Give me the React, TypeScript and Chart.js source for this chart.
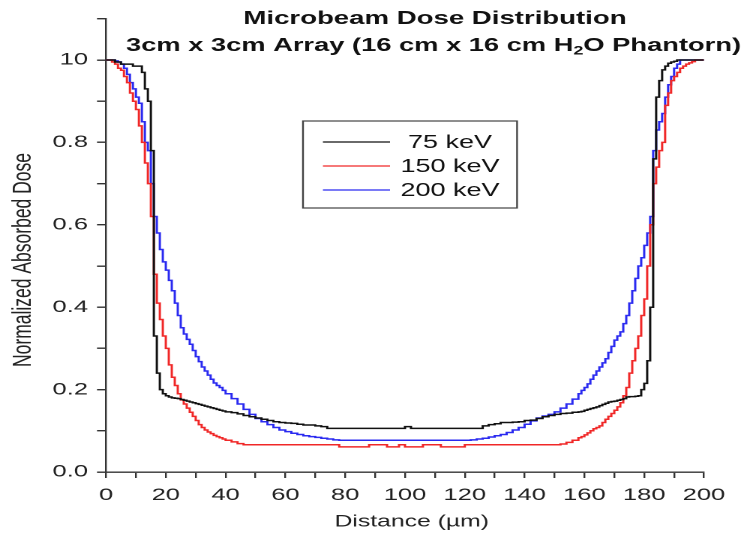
import React, { useEffect, useRef } from 'react';
import { Chart, registerables } from 'chart.js';

Chart.register(...registerables);

// The reference is horizontally stretched; draw on a narrower canvas and stretch it with CSS.
const STRETCH = 1.5;
const W = 747;
const H = 533;
const IW = Math.round(W / STRETCH);

const titleLine1 = 'Microbeam Dose Distribution';
const titleLine2a = '3cm x 3cm Array (16 cm x 16 cm H';
const titleLine2sub = '2';
const titleLine2b = 'O Phantorn)';
const xTitle = 'Distance (\u00b5m)';
const yTitle = 'Normalized Absorbed Dose';

const seriesLabels = ['75 keV', '150 keV', '200 keV'];
const seriesColors = ['#111111', '#f02828', '#2a2af0'];

const distance = [
  0, 1, 2, 3, 4, 5, 6, 7, 8, 9, 10, 11, 12, 13, 14, 15, 16, 17, 18, 19, 20,
  21, 22, 23, 24, 25, 26, 27, 28, 29, 30, 31, 32, 33, 34, 35, 36, 37, 38, 39, 40,
  42, 44, 46, 48, 50, 52, 54, 56, 58, 60, 62, 64, 66, 68, 70, 72, 74, 76, 78, 80,
  82, 84, 86, 88, 90, 92, 94, 96, 98, 100, 102, 104, 106, 108, 110, 112, 114, 116, 118, 120,
  122, 124, 126, 128, 130, 132, 134, 136, 138, 140, 142, 144, 146, 148, 150, 152, 154, 156, 158,
  159, 160, 161, 162, 163, 164, 165, 166, 167, 168, 169, 170, 171, 172, 173, 174, 175, 176, 177, 178, 179,
  180, 181, 182, 183, 184, 185, 186, 187, 188, 189, 190, 191, 192, 193, 194, 195, 196, 197, 198, 199, 200,
];

const dose75 = [
  1, 1, 1, 0.995, 0.995, 0.99, 0.99, 0.99, 0.99, 0.985, 0.985, 0.985, 0.97, 0.93, 0.9, 0.78, 0.33, 0.24, 0.2, 0.19, 0.185,
  0.182, 0.18, 0.179, 0.178, 0.176, 0.174, 0.172, 0.17, 0.168, 0.166, 0.164, 0.162, 0.16, 0.158, 0.156, 0.154, 0.152, 0.15, 0.148, 0.146,
  0.144, 0.141, 0.137, 0.134, 0.131, 0.128, 0.125, 0.122, 0.12, 0.119, 0.118, 0.116, 0.114, 0.114, 0.112, 0.11, 0.106,
  0.106, 0.106, 0.106, 0.106, 0.106, 0.106, 0.106, 0.106, 0.106, 0.106, 0.106, 0.106,
  0.11,
  0.106, 0.106, 0.106, 0.106, 0.106, 0.106, 0.106, 0.106, 0.106, 0.106, 0.106, 0.106,
  0.112, 0.115, 0.117, 0.12, 0.12, 0.121, 0.122, 0.125, 0.126, 0.13, 0.134, 0.137, 0.14, 0.142, 0.143, 0.145, 0.146,
  0.147, 0.15, 0.152, 0.154, 0.156, 0.158, 0.161, 0.164, 0.167, 0.17, 0.171, 0.172, 0.174, 0.176, 0.178, 0.182,
  0.183, 0.183, 0.184, 0.185, 0.2, 0.215, 0.27, 0.4, 0.76, 0.91, 0.95, 0.976, 0.985, 0.992, 0.995, 0.997,
  1, 1, 1, 1, 1, 1, 1, 1, 1, 1,
];

const dose150 = [
  1, 1, 0.995, 0.99, 0.98, 0.975, 0.96, 0.945, 0.92, 0.9, 0.88, 0.84, 0.8, 0.75, 0.7, 0.62, 0.48, 0.41, 0.37, 0.33, 0.3,
  0.26, 0.23, 0.21, 0.19, 0.175, 0.165, 0.155, 0.145, 0.135, 0.125, 0.115, 0.108, 0.102, 0.097, 0.093, 0.089, 0.086, 0.083, 0.08, 0.077,
  0.073, 0.069, 0.066, 0.066,
  0.066, 0.066, 0.066, 0.066, 0.066, 0.066, 0.066, 0.066, 0.066, 0.066, 0.066, 0.066, 0.066, 0.066,
  0.061, 0.061, 0.061, 0.061, 0.061,
  0.066, 0.066, 0.066,
  0.061, 0.061,
  0.066,
  0.061, 0.061, 0.061,
  0.066, 0.066, 0.066,
  0.061, 0.061, 0.061, 0.061,
  0.066, 0.066, 0.066, 0.066, 0.066, 0.066, 0.066, 0.066, 0.066, 0.066, 0.066, 0.066, 0.066, 0.066, 0.066, 0.066,
  0.068, 0.072, 0.077, 0.083,
  0.086, 0.09, 0.095, 0.1, 0.105, 0.108, 0.112, 0.12, 0.128, 0.135, 0.142, 0.15, 0.158, 0.168, 0.185, 0.205,
  0.24, 0.27, 0.3, 0.33, 0.38, 0.42, 0.5, 0.6, 0.7, 0.74, 0.78, 0.8, 0.89, 0.92, 0.95, 0.96, 0.97, 0.98,
  0.985, 0.99, 0.993, 0.996, 1, 1, 1, 1,
];

const dose200 = [
  1, 1, 1, 0.998, 0.995, 0.99, 0.98, 0.965, 0.945, 0.93, 0.91, 0.895, 0.85, 0.8, 0.78, 0.7, 0.62, 0.58, 0.54, 0.51, 0.49,
  0.465, 0.44, 0.41, 0.38, 0.35, 0.335, 0.322, 0.31, 0.295, 0.28, 0.268, 0.255, 0.245, 0.235, 0.225, 0.216, 0.21, 0.205, 0.198, 0.19,
  0.178, 0.165, 0.152, 0.14, 0.13, 0.122, 0.115, 0.108, 0.102, 0.098, 0.094, 0.091, 0.088, 0.086, 0.084, 0.082, 0.08, 0.078,
  0.077, 0.077, 0.077, 0.077, 0.077, 0.077, 0.077, 0.077, 0.077, 0.077, 0.077,
  0.077, 0.077, 0.077, 0.077, 0.077, 0.077, 0.077, 0.077, 0.077, 0.077, 0.077,
  0.078, 0.08, 0.082, 0.085, 0.088, 0.091, 0.096, 0.102, 0.108, 0.116, 0.124, 0.131, 0.136, 0.14, 0.146, 0.155, 0.165, 0.177, 0.19,
  0.198, 0.205, 0.214, 0.225, 0.235, 0.245, 0.255, 0.265, 0.275, 0.29, 0.305, 0.32, 0.33, 0.34, 0.36, 0.38, 0.41,
  0.44, 0.47, 0.5, 0.52, 0.55, 0.58, 0.62, 0.78, 0.83, 0.85, 0.87, 0.91, 0.94, 0.96, 0.98, 0.99,
  1, 1, 1, 1, 1, 1, 1, 1, 1,
];

const seriesValues = [dose75, dose150, dose200];

const xMin = 0;
const xMax = 200;
const xStep = 10;
const yMin = 0;
const yMax = 1.1;
const yStep = 0.1;

const FONT = '"Liberation Sans", Arial, Helvetica, sans-serif';

const titlePlugin = {
  id: 'customTitle',
  afterDraw(chart: any) {
    const ctx = chart.ctx as CanvasRenderingContext2D;
    ctx.save();
    ctx.fillStyle = '#111111';
    ctx.textBaseline = 'middle';
    const cx = 289;
    ctx.font = `bold 18.4px ${FONT}`;
    ctx.textAlign = 'center';
    ctx.fillText(titleLine1, cx + 1, 19);
    ctx.textAlign = 'left';
    ctx.font = `bold 18.2px ${FONT}`;
    const wA = ctx.measureText(titleLine2a).width;
    const wB = ctx.measureText(titleLine2b).width;
    ctx.font = `bold 12px ${FONT}`;
    const wS = ctx.measureText(titleLine2sub).width;
    const total = wA + wS + wB;
    let x = cx - total / 2;
    ctx.font = `bold 18.2px ${FONT}`;
    ctx.fillText(titleLine2a, x, 46);
    x += wA;
    ctx.font = `bold 12px ${FONT}`;
    ctx.fillText(titleLine2sub, x, 51);
    x += wS;
    ctx.font = `bold 18.2px ${FONT}`;
    ctx.fillText(titleLine2b, x, 46);

    // axis titles
    ctx.fillStyle = '#222222';
    ctx.font = `16.5px ${FONT}`;
    ctx.textAlign = 'center';
    ctx.fillText(xTitle, 274.5, 522);
    ctx.translate(15.5, 260);
    ctx.rotate(-Math.PI / 2);
    ctx.font = `17.5px ${FONT}`;
    ctx.fillText(yTitle, 0, 0);
    ctx.restore();
  },
};

const legendPlugin = {
  id: 'customLegend',
  afterDraw(chart: any) {
    const ctx = chart.ctx as CanvasRenderingContext2D;
    ctx.save();
    ctx.strokeStyle = '#444444';
    ctx.lineWidth = 1.2;
    ctx.strokeRect(202, 121, 142.7, 87);
    const rows = [142, 166, 190];
    chart.data.datasets.forEach((ds: any, i: number) => {
      const y = rows[i];
      ctx.strokeStyle = ds.borderColor;
      ctx.lineWidth = 1.3;
      ctx.beginPath();
      ctx.moveTo(215.3, y);
      ctx.lineTo(260, y);
      ctx.stroke();
      ctx.fillStyle = '#111111';
      ctx.font = `18px ${FONT}`;
      ctx.textAlign = 'center';
      ctx.textBaseline = 'middle';
      ctx.fillText(ds.label, 300, y + 1);
    });
    ctx.restore();
  },
};

export default function App() {
  const canvasRef = useRef<HTMLCanvasElement | null>(null);

  useEffect(() => {
    const canvas = canvasRef.current;
    if (!canvas) return;
    const datasets = seriesLabels.map((label, i) => ({
      label,
      data: distance.map((d, j) => ({ x: d, y: seriesValues[i][j] })),
      borderColor: seriesColors[i],
      backgroundColor: seriesColors[i],
      borderWidth: 1.5,
      pointRadius: 0,
      stepped: true,
      fill: false,
    }));
    const chart = new Chart(canvas, {
      type: 'line',
      data: { datasets },
      options: {
        animation: false,
        responsive: false,
        devicePixelRatio: 2,
        layout: { padding: { left: 0, right: IW - 469.33, top: 18.8, bottom: 0 } },
        plugins: {
          legend: { display: false },
          title: { display: false },
          tooltip: { enabled: false },
        },
        scales: {
          x: {
            type: 'linear',
            min: xMin,
            max: xMax,
            afterFit: (s: any) => {
              s.height = 61;
            },
            border: { display: true, color: '#333333', width: 1.4 },
            grid: { display: true, drawOnChartArea: false, drawTicks: true, tickLength: 6, color: '#333333', lineWidth: 1.2 },
            ticks: {
              stepSize: xStep,
              autoSkip: false,
              maxRotation: 0,
              padding: 7,
              color: '#222222',
              font: { family: FONT, size: 17 },
              callback: (v: any) => (Math.round(v) % 20 === 0 ? String(Math.round(v)) : ''),
            },
            title: { display: false },
          },
          y: {
            type: 'linear',
            min: yMin,
            max: yMax,
            afterFit: (s: any) => {
              s.width = 70.67;
            },
            border: { display: true, color: '#333333', width: 1.2 },
            grid: { display: true, drawOnChartArea: false, drawTicks: true, tickLength: 6, color: '#333333', lineWidth: 1.4 },
            ticks: {
              stepSize: yStep,
              autoSkip: false,
              padding: 6,
              color: '#222222',
              font: { family: FONT, size: 17 },
              callback: (v: any) => {
                const r = Math.round(v * 10);
                if (r % 2 !== 0) return '';
                if (r === 10) return '10';
                return (r / 10).toFixed(1);
              },
            },
            title: { display: false },
          },
        },
      },
      plugins: [titlePlugin, legendPlugin],
    } as any);
    return () => {
      chart.destroy();
    };
  }, []);

  return (
    <div style={{ position: 'fixed', left: 0, top: 0, width: W, height: H, background: '#ffffff' }}>
      <canvas
        ref={canvasRef}
        width={IW}
        height={H}
        style={{ width: `${W}px`, height: `${H}px`, display: 'block' }}
      />
    </div>
  );
}
